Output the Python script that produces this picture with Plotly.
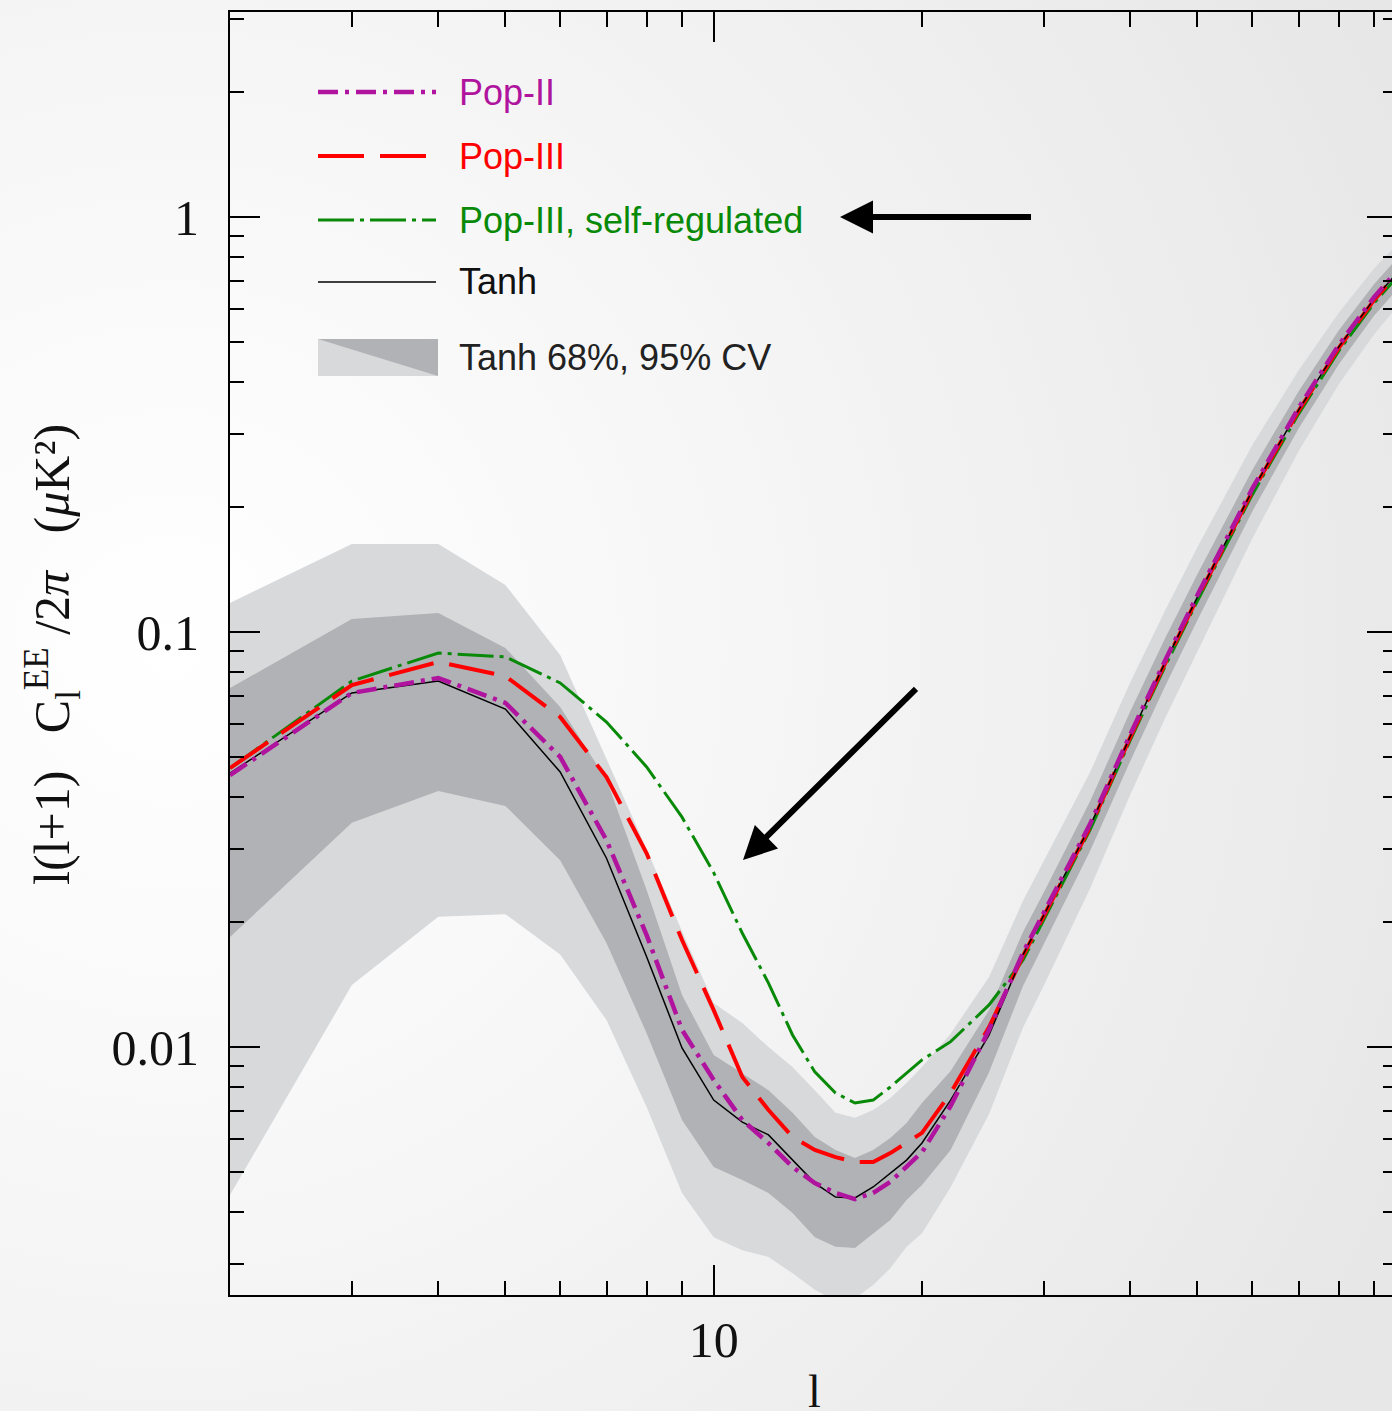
import base64
import plotly.graph_objects as go

# ---------------- data ----------------
ell = [2, 3, 4, 5, 6, 7, 8, 9, 10, 11, 12, 13, 14, 15, 16, 17, 18, 19, 20,
       22, 25, 28, 30, 35, 40, 45, 50, 60, 70, 80, 90, 96]

tanh = [0.0457, 0.0713, 0.0762, 0.0652, 0.0460, 0.0285, 0.0165, 0.00995, 0.00745,
        0.00659, 0.00614, 0.00534, 0.00470, 0.00435, 0.00433, 0.00460, 0.00497,
        0.00534, 0.00587, 0.00745, 0.01069, 0.0167, 0.0208, 0.0341, 0.0561, 0.0851,
        0.1214, 0.2188, 0.3427, 0.486, 0.634, 0.717]

pop2 = [0.0452, 0.0713, 0.0775, 0.0675, 0.0500, 0.0315, 0.0186, 0.0110, 0.00833,
        0.00667, 0.00587, 0.00514, 0.00470, 0.00445, 0.00430, 0.00445, 0.00473,
        0.00514, 0.00558, 0.00721, 0.0110, 0.0169, 0.0210, 0.0345, 0.0567, 0.0860,
        0.1227, 0.2212, 0.3465, 0.491, 0.641, 0.725]

pop3 = [0.0470, 0.0745, 0.0847, 0.0783, 0.0624, 0.0447, 0.0293, 0.0181, 0.01227,
        0.00847, 0.00705, 0.00607, 0.00565, 0.00543, 0.00528, 0.00528, 0.00555,
        0.00587, 0.00621, 0.00775, 0.01117, 0.0166, 0.0207, 0.0339, 0.0558, 0.0846,
        0.1207, 0.2176, 0.3408, 0.4833, 0.6305, 0.713]

pop3_selfreg = [0.0470, 0.0762, 0.0890, 0.0871, 0.0754, 0.0607, 0.0473, 0.0358,
                0.0263, 0.0188, 0.01426, 0.01069, 0.00871, 0.00775, 0.00733, 0.00745,
                0.00801, 0.00866, 0.00931, 0.01030, 0.01263, 0.0162, 0.0203, 0.0334,
                0.0549, 0.0832, 0.1187, 0.214, 0.335, 0.475, 0.620, 0.701]

cv95_upper = [0.1175, 0.163, 0.163, 0.1298, 0.0880, 0.0492, 0.0300, 0.0190, 0.01277,
              0.01142, 0.0100, 0.00895, 0.00787, 0.00694, 0.00675, 0.00705, 0.00754,
              0.00819, 0.00895, 0.01077, 0.01475, 0.02253, 0.02806, 0.0460, 0.0757,
              0.1135, 0.160, 0.2818, 0.4266, 0.587, 0.752, 0.8425]

cv95_lower = [0.0044, 0.0141, 0.0206, 0.0209, 0.0167, 0.01161, 0.00717, 0.00445,
              0.00348, 0.00324, 0.00312, 0.00285, 0.00260, 0.00245, 0.00248, 0.00267,
              0.00293, 0.00330, 0.00356, 0.00459, 0.00690, 0.01116, 0.01406, 0.02414,
              0.0406, 0.0624, 0.090, 0.1678, 0.2722, 0.395, 0.521, 0.5937]

cv68_upper = [0.0733, 0.1075, 0.1111, 0.0915, 0.0660, 0.0440, 0.0239, 0.01334, 0.00957,
              0.00866, 0.00787, 0.00694, 0.00607, 0.00565, 0.00540, 0.00565, 0.00604,
              0.00656, 0.00733, 0.00875, 0.01227, 0.01896, 0.0236, 0.03915, 0.0644,
              0.0973, 0.1378, 0.2455, 0.380, 0.5327, 0.6885, 0.777]

cv68_lower = [0.0184, 0.0347, 0.0414, 0.0381, 0.0282, 0.0178, 0.0108, 0.00667, 0.00514,
              0.00478, 0.00445, 0.00398, 0.00348, 0.00330, 0.00328, 0.00356, 0.00383,
              0.00428, 0.00465, 0.00565, 0.00869, 0.01405, 0.0177, 0.0297, 0.0489,
              0.0745, 0.1067, 0.195, 0.309, 0.4413, 0.578, 0.654]

x_major = [10]
x_major_text = ["10"]
x_minor = [3, 4, 5, 6, 7, 8, 9, 20, 30, 40, 50, 60, 70, 80, 90]
y_major = [0.01, 0.1, 1]
y_major_text = ["0.01", "0.1", "1"]
y_minor = [0.003, 0.004, 0.005, 0.006, 0.007, 0.008, 0.009,
           0.02, 0.03, 0.04, 0.05, 0.06, 0.07, 0.08, 0.09,
           0.2, 0.3, 0.4, 0.5, 0.6, 0.7, 0.8, 0.9, 2, 3]

legend_names = ["Pop-II", "Pop-III", "Pop-III, self-regulated", "Tanh",
                "Tanh 68%, 95% CV"]

# ---------------- styles ----------------
W, H = 1392, 1411
ML, MR, MT, MB = 230, 0, 12, 116
PW, PH = W - ML - MR, H - MT - MB
XRANGE = [0.30103, 0.30103 + PW / 692.0]
YRANGE = [0.494 - PH / 415.0, 0.494]

C_MAG = "#b0149e"
C_RED = "#ff0000"
C_GRN = "#088a08"
C_LIGHT = "#d8d9db"
C_DARK = "#b1b2b5"
DASH_MAG = "20px,7px,4px,7px"
DASH_RED = "46px,16px"
DASH_GRN = "36px,6px,4px,6px"
SERIF = "Liberation Serif, Times New Roman, serif"
SANS = "Liberation Sans, Arial, Helvetica, sans-serif"


def px(xp):
    return (xp - ML) / PW


def py(yp):
    return (H - MB - yp) / PH


fig = go.Figure()

fig.add_trace(go.Scatter(x=ell + ell[::-1], y=cv95_upper + cv95_lower[::-1],
                         fill="toself", fillcolor=C_LIGHT, mode="lines",
                         line=dict(width=0, color=C_LIGHT), hoverinfo="skip",
                         showlegend=False))
fig.add_trace(go.Scatter(x=ell + ell[::-1], y=cv68_upper + cv68_lower[::-1],
                         fill="toself", fillcolor=C_DARK, mode="lines",
                         line=dict(width=0, color=C_DARK), hoverinfo="skip",
                         showlegend=False))
fig.add_trace(go.Scatter(x=ell, y=pop3_selfreg, mode="lines", name=legend_names[2],
                         line=dict(color=C_GRN, width=3, dash=DASH_GRN),
                         showlegend=False))
fig.add_trace(go.Scatter(x=ell, y=pop3, mode="lines", name=legend_names[1],
                         line=dict(color=C_RED, width=4, dash=DASH_RED),
                         showlegend=False))
fig.add_trace(go.Scatter(x=ell, y=tanh, mode="lines", name=legend_names[3],
                         line=dict(color="#000000", width=1.5), showlegend=False))
fig.add_trace(go.Scatter(x=ell, y=pop2, mode="lines", name=legend_names[0],
                         line=dict(color=C_MAG, width=4.5, dash=DASH_MAG),
                         showlegend=False))
# invisible trace to activate the mirrored (top / right) tick axes
fig.add_trace(go.Scatter(x=[10], y=[1], xaxis="x2", yaxis="y2", mode="markers",
                         marker=dict(opacity=0), hoverinfo="skip", showlegend=False))

common_x = dict(type="log", range=XRANGE, showgrid=False, zeroline=False,
                ticks="inside", tickwidth=2, tickcolor="#000",
                tickvals=x_major)
common_y = dict(type="log", range=YRANGE, showgrid=False, zeroline=False,
                ticks="inside", tickwidth=2, tickcolor="#000",
                tickvals=y_major)

fig.update_layout(
    width=W, height=H, autosize=False,
    margin=dict(l=ML, r=MR, t=MT, b=MB, pad=0),
    paper_bgcolor="#ffffff", plot_bgcolor="rgba(0,0,0,0)",
    showlegend=False,
    xaxis=dict(**common_x, ticklen=30, ticktext=x_major_text,
               showline=True, linecolor="#000", linewidth=2,
               tickfont=dict(family=SERIF, size=50, color="#111"),
               ticklabelstandoff=0,
               minor=dict(tickvals=x_minor, ticks="inside", ticklen=14,
                          tickwidth=2, tickcolor="#000")),
    yaxis=dict(**common_y, ticklen=30, ticktext=y_major_text,
               showline=True, linecolor="#000", linewidth=2,
               tickfont=dict(family=SERIF, size=50, color="#111"),
               ticklabelstandoff=19,
               minor=dict(tickvals=y_minor, ticks="inside", ticklen=14,
                          tickwidth=2, tickcolor="#000")),
    xaxis2=dict(**common_x, ticklen=30, overlaying="x", side="top", anchor="y2",
                showline=True, linecolor="#000", linewidth=2,
                showticklabels=False,
                minor=dict(tickvals=x_minor, ticks="inside", ticklen=15,
                           tickwidth=2, tickcolor="#000")),
    yaxis2=dict(**common_y, ticklen=25, overlaying="y", side="right", anchor="x2",
                showline=False, showticklabels=False,
                minor=dict(tickvals=y_minor, ticks="inside", ticklen=9,
                           tickwidth=2, tickcolor="#000")),
)

# ---------------- background gradient ----------------
svg = ('<svg xmlns="http://www.w3.org/2000/svg" width="1392" height="1411" '
       'viewBox="0 0 1392 1411" preserveAspectRatio="none">'
       '<defs><radialGradient id="g" cx="170" cy="650" r="1350" '
       'gradientUnits="userSpaceOnUse">'
       '<stop offset="0" stop-color="#ffffff"/>'
       '<stop offset="0.35" stop-color="#f8f8f8"/>'
       '<stop offset="0.7" stop-color="#efefef"/>'
       '<stop offset="1" stop-color="#e7e7e7"/>'
       '</radialGradient></defs>'
       '<rect x="0" y="0" width="1392" height="1411" fill="url(#g)"/></svg>')
src = "data:image/svg+xml;base64," + base64.b64encode(svg.encode()).decode()
fig.add_layout_image(dict(source=src, xref="paper", yref="paper",
                          x=px(0), y=py(0), sizex=W / PW, sizey=H / PH,
                          xanchor="left", yanchor="top", sizing="stretch",
                          layer="below"))

# ---------------- legend (drawn by hand) ----------------
rows = [92, 156, 220, 282]
styles = [(C_MAG, 4.5, DASH_MAG), (C_RED, 4, DASH_RED), (C_GRN, 3, DASH_GRN),
          ("#000000", 1.5, "solid")]
txt_colors = [C_MAG, C_RED, C_GRN, "#111111"]
for r, (c, w, d), tc, name in zip(rows, styles, txt_colors, legend_names[:4]):
    fig.add_shape(type="line", xref="paper", yref="paper",
                  x0=px(318), x1=px(436), y0=py(r), y1=py(r),
                  line=dict(color=c, width=w, dash=d))
    fig.add_annotation(xref="paper", yref="paper", x=px(457), y=py(r),
                       xanchor="left", yanchor="middle", showarrow=False,
                       text=name, font=dict(family=SANS, size=36, color=tc))
# band legend icon
fig.add_shape(type="rect", xref="paper", yref="paper",
              x0=px(318), x1=px(438), y0=py(376), y1=py(339),
              fillcolor=C_LIGHT, line=dict(width=0))
fig.add_shape(type="path", xref="paper", yref="paper",
              path=f"M {px(318)},{py(339)} L {px(438)},{py(339)} L {px(438)},{py(376)} Z",
              fillcolor=C_DARK, line=dict(width=0))
fig.add_annotation(xref="paper", yref="paper", x=px(457), y=py(357),
                   xanchor="left", yanchor="middle", showarrow=False,
                   text=legend_names[4], font=dict(family=SANS, size=36, color="#222"))

# ---------------- arrows ----------------
fig.add_annotation(xref="paper", yref="paper", x=px(840), y=py(217), ax=194, ay=0,
                   text=" ", showarrow=True, arrowhead=2, arrowsize=1.1,
                   arrowwidth=6, arrowcolor="#000", standoff=0)
fig.add_annotation(xref="paper", yref="paper", x=px(743), y=py(860), ax=176, ay=-174,
                   text=" ", showarrow=True, arrowhead=2, arrowsize=1.1,
                   arrowwidth=6, arrowcolor="#000", standoff=0)

# ---------------- axis titles ----------------
fig.add_annotation(xref="paper", yref="paper", x=px(815), y=py(1392),
                   xanchor="center", yanchor="middle", showarrow=False,
                   text="l", font=dict(family=SERIF, size=46, color="#111"))
fig.add_annotation(xref="paper", yref="paper", x=px(52), y=py(655),
                   xanchor="center", yanchor="middle", showarrow=False,
                   textangle=-90,
                   text=("l(l+1)&nbsp;&nbsp;&nbsp;C<sub>l</sub><sup>EE</sup>"
                         "&nbsp;/2<i>π</i>&nbsp;&nbsp;&nbsp;(<i>μ</i>K²)"),
                   font=dict(family=SERIF, size=50, color="#111"))

fig.write_html("out.html", config={"displayModeBar": False})
